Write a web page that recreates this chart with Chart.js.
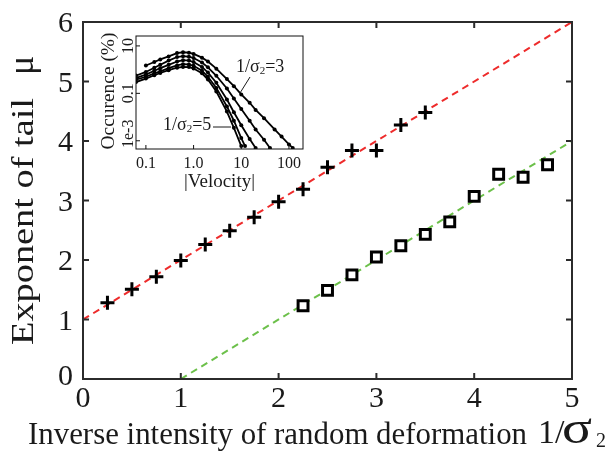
<!DOCTYPE html>
<html>
<head>
<meta charset="utf-8">
<script src="https://cdn.jsdelivr.net/npm/chart.js@4.4.0/dist/chart.umd.min.js"></script>
<style>
  html, body { margin: 0; padding: 0; background: #fff; }
  #wrap { position: relative; width: 613px; height: 457px; }
  #main { position: absolute; left: 0; top: 0; }
  #inset { position: absolute; left: 90px; top: 25px; }
</style>
</head>
<body>
<div id="wrap">
  <canvas id="main" width="613" height="457"></canvas>
  <canvas id="inset" width="225" height="172"></canvas>
</div>
<script>
var SERIF = "'Liberation Serif', 'DejaVu Serif', serif";
var INK = '#1a1a1a';

/* main plot: exponent of the tail vs 1/sigma2 */
var plusX = [0.25, 0.5, 0.75, 1, 1.25, 1.5, 1.75, 2, 2.25, 2.5, 2.75, 3, 3.25, 3.5];
var plusMu = [1.28, 1.51, 1.72, 1.99, 2.26, 2.49, 2.72, 2.98, 3.19, 3.56, 3.84, 3.84, 4.27, 4.48];
var squareX = [2.25, 2.5, 2.75, 3, 3.25, 3.5, 3.75, 4, 4.25, 4.5, 4.75];
var squareMu = [1.23, 1.49, 1.75, 2.05, 2.24, 2.43, 2.64, 3.07, 3.44, 3.39, 3.60];
var redFitX = [0, 5];
var redFitMu = [1, 6];
var greenFitX = [1, 5];
var greenFitMu = [0, 4];
var mainXTicks = [0, 1, 2, 3, 4, 5];
var mainYTicks = [0, 1, 2, 3, 4, 5, 6];

var xTitle = 'Inverse intensity of random deformation';
var yTitle = 'Exponent of tail';

/* inset: velocity distributions, 1/sigma2 = 3 ... 5 */
var vel3 = [0.1, 0.15, 0.2, 0.3, 0.45, 0.6, 0.8, 1, 1.5, 2, 3, 5, 7, 10, 15, 20, 30, 50, 70, 100, 120];
var occ3 = [1.5, 2.1, 2.7, 3.6, 5.0, 5.4, 5.2, 4.6, 3.2, 2.2, 1.1, 0.4, 0.2, 0.09, 0.04, 0.02, 0.009, 0.003, 0.0015, 0.0007, 0.0005];
var vel35 = [0.062, 0.1, 0.15, 0.2, 0.3, 0.45, 0.6, 0.8, 1, 1.5, 2, 3, 5, 7, 10, 15, 20, 30, 40];
var occ35 = [0.56, 0.8, 1.2, 1.6, 2.4, 3.4, 3.7, 3.5, 3.1, 2.0, 1.25, 0.55, 0.16, 0.06, 0.022, 0.007, 0.003, 0.0011, 0.0005];
var vel4 = [0.062, 0.1, 0.15, 0.2, 0.3, 0.45, 0.6, 0.8, 1, 1.5, 2, 3, 5, 7, 10, 15, 20];
var occ4 = [0.45, 0.62, 0.9, 1.15, 1.6, 2.2, 2.5, 2.4, 2.1, 1.3, 0.75, 0.28, 0.055, 0.016, 0.0045, 0.0012, 0.0005];
var vel45 = [0.062, 0.1, 0.15, 0.2, 0.3, 0.45, 0.6, 0.8, 1, 1.5, 2, 3, 5, 7, 10, 12];
var occ45 = [0.38, 0.5, 0.7, 0.85, 1.15, 1.5, 1.7, 1.65, 1.45, 0.9, 0.5, 0.17, 0.028, 0.007, 0.0013, 0.0006];
var vel5 = [0.062, 0.1, 0.15, 0.2, 0.3, 0.45, 0.6, 0.8, 1, 1.5, 2, 3, 5, 7, 10];
var occ5 = [0.3, 0.42, 0.58, 0.72, 0.95, 1.2, 1.3, 1.28, 1.12, 0.7, 0.38, 0.12, 0.017, 0.0035, 0.0006];

var insetXTicks = [0.1, 1, 10, 100];
var insetXLabels = ['0.1', '1.0', '10', '100'];
var insetYTicks = [10, 0.1, 0.001];
var insetYLabels = ['10', '0.1', '1e-3'];

var pts = function(xs, ys) {
  return xs.map(function(x, i) { return { x: x, y: ys[i] }; });
};

/* stretch or squeeze a text to a given width */
var fitText = function(ctx, text, x, y, width) {
  var w = ctx.measureText(text).width;
  ctx.save();
  ctx.translate(x, y);
  ctx.scale(width / w, 1);
  ctx.fillText(text, 0, 0);
  ctx.restore();
};

/* box round the plot area with short ticks pointing inwards */
var frame = {
  id: 'frame',
  afterDatasetsDraw: function(chart, args, opts) {
    var a = chart.chartArea, ctx = chart.ctx;
    var xs = chart.scales.x, ys = chart.scales.y;
    ctx.save();
    ctx.strokeStyle = opts.color;
    ctx.lineWidth = opts.width;
    ctx.strokeRect(a.left, a.top, a.right - a.left, a.bottom - a.top);
    ctx.beginPath();
    xs.ticks.forEach(function(t) {
      var px = xs.getPixelForValue(t.value);
      ctx.moveTo(px, a.bottom); ctx.lineTo(px, a.bottom - opts.len);
      if (opts.all) { ctx.moveTo(px, a.top); ctx.lineTo(px, a.top + opts.len); }
    });
    ys.ticks.forEach(function(t) {
      var py = ys.getPixelForValue(t.value);
      ctx.moveTo(a.left, py); ctx.lineTo(a.left + opts.len, py);
      if (opts.all) { ctx.moveTo(a.right, py); ctx.lineTo(a.right - opts.len, py); }
    });
    ctx.stroke();
    ctx.restore();
  }
};

/* "1/σ2" with a lowered small 2 */
var drawSigma = function(ctx, x, y, size, tail) {
  ctx.font = size + 'px ' + SERIF;
  ctx.fillText('1/σ', x, y);
  x += ctx.measureText('1/σ').width;
  ctx.font = Math.round(size * 0.62) + 'px ' + SERIF;
  ctx.fillText('2', x, y + size * 0.12);
  x += ctx.measureText('2').width;
  if (tail) {
    ctx.font = size + 'px ' + SERIF;
    ctx.fillText(tail, x, y);
  }
};

var mainText = {
  id: 'mainText',
  afterDraw: function(chart) {
    var ctx = chart.ctx, a = chart.chartArea;
    var xs = chart.scales.x, ys = chart.scales.y;
    ctx.save();
    ctx.fillStyle = INK;
    ctx.textBaseline = 'alphabetic';

    ctx.font = '30px ' + SERIF;
    ctx.textAlign = 'center';
    mainXTicks.forEach(function(v) {
      ctx.fillText(String(v), xs.getPixelForValue(v), a.bottom + 28);
    });
    ctx.textAlign = 'right';
    mainYTicks.forEach(function(v) {
      var py = ys.getPixelForValue(v);
      if (v === 0) py -= 4;
      ctx.fillText(String(v), a.left - 10, py + 10);
    });

    ctx.textAlign = 'left';
    ctx.font = '31px ' + SERIF;
    fitText(ctx, xTitle, 28, 444, 499);
    ctx.font = '34px ' + SERIF;
    ctx.fillText('1/', 538, 443);
    ctx.font = '46px ' + SERIF;
    fitText(ctx, 'σ', 562, 443, 30);
    ctx.font = '20px ' + SERIF;
    ctx.fillText('2', 596, 447);

    ctx.translate(33, 345);
    ctx.rotate(-Math.PI / 2);
    ctx.font = '31px ' + SERIF;
    fitText(ctx, yTitle, 0, 0, 247);
    ctx.font = '36px ' + SERIF;
    ctx.fillText('μ', 270, 0);
    ctx.restore();
  }
};

new Chart(document.getElementById('main'), {
  type: 'scatter',
  data: {
    datasets: [{
      data: pts(plusX, plusMu),
      pointStyle: 'cross',
      pointRadius: 7,
      borderColor: '#000',
      pointBorderWidth: 3
    }, {
      data: pts(squareX, squareMu),
      pointStyle: 'rect',
      pointRadius: 7,
      borderColor: '#000',
      backgroundColor: '#fff',
      pointBorderWidth: 3
    }, {
      data: pts(redFitX, redFitMu),
      showLine: true,
      pointRadius: 0,
      borderColor: '#ee2b2b',
      borderWidth: 2,
      borderDash: [7, 5]
    }, {
      data: pts(greenFitX, greenFitMu),
      showLine: true,
      pointRadius: 0,
      borderColor: '#6cc04a',
      borderWidth: 2,
      borderDash: [7, 5]
    }]
  },
  options: {
    responsive: false,
    animation: false,
    layout: { padding: { left: 0, top: 22, right: 41, bottom: 0 } },
    plugins: {
      legend: { display: false },
      tooltip: { enabled: false },
      frame: { color: '#2b2b2b', width: 2, len: 6, all: true }
    },
    scales: {
      x: {
        type: 'linear', min: 0, max: 5,
        grid: { display: false }, border: { display: false },
        ticks: { display: false, stepSize: 1 },
        afterFit: function(s) { s.height = 78; }
      },
      y: {
        type: 'linear', min: 0, max: 6,
        grid: { display: false }, border: { display: false },
        ticks: { display: false, stepSize: 1 },
        afterFit: function(s) { s.width = 83; }
      }
    }
  },
  plugins: [frame, mainText]
});

/* labels of the inset, all placed from its scales */
var insetText = {
  id: 'insetText',
  beforeDraw: function(chart) {
    var a = chart.chartArea, ctx = chart.ctx;
    ctx.save();
    ctx.fillStyle = '#fff';
    ctx.fillRect(a.left, a.top, a.right - a.left, a.bottom - a.top);
    ctx.restore();
  },
  afterDraw: function(chart) {
    var a = chart.chartArea, ctx = chart.ctx;
    var xs = chart.scales.x, ys = chart.scales.y;
    ctx.save();
    ctx.fillStyle = INK;
    ctx.strokeStyle = INK;
    ctx.textBaseline = 'alphabetic';
    ctx.textAlign = 'center';
    ctx.font = '16px ' + SERIF;
    insetXTicks.forEach(function(v, i) {
      ctx.fillText(insetXLabels[i], xs.getPixelForValue(v), a.bottom + 19);
    });
    ctx.font = '19px ' + SERIF;
    ctx.fillText('|Velocity|', (a.left + a.right) / 2, a.bottom + 38);

    ctx.save();
    ctx.translate(a.left - 3, 0);
    ctx.rotate(-Math.PI / 2);
    ctx.font = '16px ' + SERIF;
    insetYTicks.forEach(function(v, i) {
      var py = ys.getPixelForValue(v);
      var w = ctx.measureText(insetYLabels[i]).width;
      py = Math.min(py, a.bottom - w / 2 - 1);
      ctx.fillText(insetYLabels[i], -py, 0);
    });
    ctx.restore();

    ctx.save();
    ctx.translate(a.left - 22, (a.top + a.bottom) / 2 - 1);
    ctx.rotate(-Math.PI / 2);
    ctx.font = '19px ' + SERIF;
    ctx.textAlign = 'left';
    fitText(ctx, 'Occurence (%)', -58, 0, 117);
    ctx.restore();

    ctx.textAlign = 'left';
    drawSigma(ctx, a.left + 100, a.top + 36, 18, '=3');
    drawSigma(ctx, a.left + 27, a.top + 94, 18, '=5');
    ctx.lineWidth = 1;
    ctx.beginPath();
    ctx.moveTo(a.left + 114, a.top + 41); ctx.lineTo(a.left + 104, a.top + 57);
    ctx.moveTo(a.left + 77, a.top + 91); ctx.lineTo(a.left + 95, a.top + 91);
    ctx.stroke();
    ctx.restore();
  }
};

var curve = function(xs, ys) {
  return {
    data: pts(xs, ys),
    showLine: true,
    borderColor: '#000',
    borderWidth: 1.8,
    pointRadius: 2,
    pointBorderWidth: 0,
    pointBackgroundColor: '#000'
  };
};

new Chart(document.getElementById('inset'), {
  type: 'scatter',
  data: {
    datasets: [curve(vel3, occ3), curve(vel35, occ35), curve(vel4, occ4), curve(vel45, occ45), curve(vel5, occ5)]
  },
  options: {
    responsive: false,
    animation: false,
    layout: { padding: { left: 0, top: 11, right: 12, bottom: 0 } },
    plugins: {
      legend: { display: false },
      tooltip: { enabled: false },
      frame: { color: '#111', width: 1, len: 4, all: false }
    },
    scales: {
      x: {
        type: 'logarithmic', min: 0.062, max: 197,
        grid: { display: false }, border: { display: false },
        ticks: { display: false },
        afterBuildTicks: function(s) { s.ticks = insetXTicks.map(function(v) { return { value: v }; }); },
        afterFit: function(s) { s.height = 48; }
      },
      y: {
        type: 'logarithmic', min: 0.00045, max: 26.2,
        grid: { display: false }, border: { display: false },
        ticks: { display: false },
        afterBuildTicks: function(s) { s.ticks = insetYTicks.map(function(v) { return { value: v }; }); },
        afterFit: function(s) { s.width = 46; }
      }
    }
  },
  plugins: [frame, insetText]
});
</script>
</body>
</html>
